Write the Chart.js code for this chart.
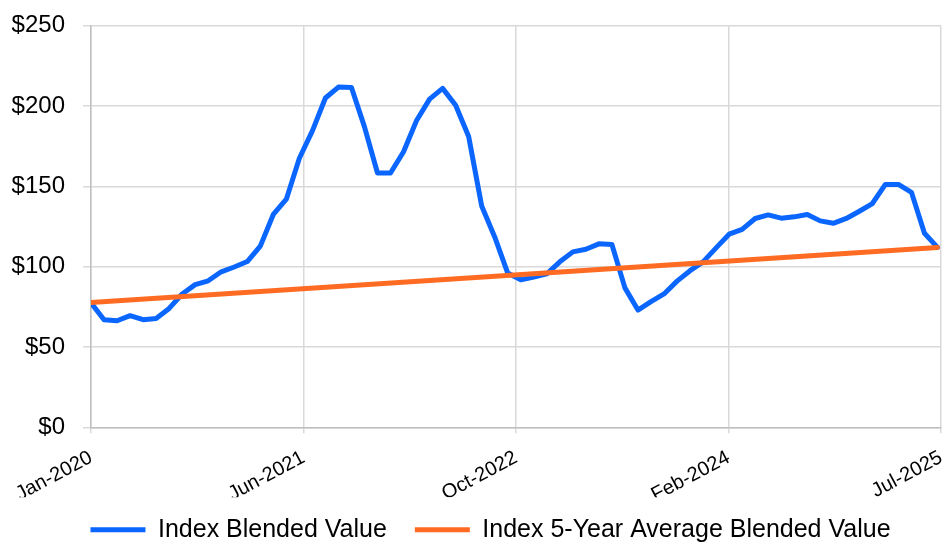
<!DOCTYPE html>
<html>
<head>
<meta charset="utf-8">
<script src="https://cdn.jsdelivr.net/npm/chart.js@4"></script>
<style>
  html, body { margin: 0; padding: 0; background: #fff; }
  #wrap { width: 951px; height: 542px; }
</style>
</head>
<body>
<div id="wrap"><canvas id="lineChart"></canvas></div>
<script>
// monthly values, Jan-2020 onwards
const blendedValue = [
    77.5, 67, 66.3, 69.5, 67, 67.7, 74, 83, 88.8, 91.2,
    96.8, 99.8, 103.2, 112.8, 132.5, 142, 167.5, 184.5, 205, 211.8,
    211.5, 187, 158.3, 158.3, 171.5, 191, 204.3, 211, 200.5, 181,
    137.8, 118.5, 96, 91.8, 93.6, 95.5, 103, 109.2, 110.8, 114.2,
    113.8, 86.8, 73, 78.2, 83, 91, 97.5, 103, 111.7, 120.2,
    123.2, 130, 132.2, 130.2, 131, 132.5, 128.5, 127, 130, 134.5,
    139.3, 151.2, 151.2, 146.3, 120.8, 112
];

// 5-year average line: start and end values
const averageIndex = [0, 65];
const averageValue = [77.7, 112];

const xTickLabels = ['Jan-2020', 'Jun-2021', 'Oct-2022', 'Feb-2024', 'Jul-2025'];
const yTickValues = [0, 50, 100, 150, 200, 250];

const xMax = 65.27;
const font = "'Liberation Sans', Arial, sans-serif";

// nudge legend: a bit right and up, like the original
const legendShift = {
    id: 'legendShift',
    afterLayout(chart) {
        const lg = chart.legend;
        lg.left += 20;
        lg.right += 20;
        lg.top -= 8;
        lg.bottom -= 8;
    }
};

// keep label overhang from eating into the plot area
function noPad(scale) {
    scale.paddingTop = 0;
    scale.paddingBottom = 0;
    scale.paddingLeft = 0;
    scale.paddingRight = 0;
}

function drawLineChart(canvasId) {
    const ctx = document.getElementById(canvasId);

    new Chart(ctx, {
        type: 'line',
        data: {
            datasets: [{
                label: 'Index Blended Value',
                data: blendedValue.map((v, i) => ({ x: i, y: v })),
                borderColor: '#0A66FF',
                backgroundColor: '#0A66FF',
                borderWidth: 5,
                borderJoinStyle: 'round',
                borderCapStyle: 'round',
                pointRadius: 0,
                tension: 0,
                order: 1
            }, {
                label: 'Index 5-Year Average Blended Value',
                data: averageIndex.map((x, i) => ({ x: x, y: averageValue[i] })),
                borderColor: '#FF6B22',
                backgroundColor: '#FF6B22',
                borderWidth: 5,
                borderCapStyle: 'round',
                pointRadius: 0,
                tension: 0,
                order: 0
            }]
        },
        plugins: [legendShift],
        options: {
            responsive: true,
            maintainAspectRatio: false,
            animation: false,
            layout: {
                padding: { left: 0, right: 10, top: 25.7, bottom: -18.3 }
            },
            plugins: {
                tooltip: { enabled: false },
                legend: {
                    position: 'bottom',
                    labels: {
                        usePointStyle: true,
                        pointStyle: 'line',
                        pointStyleWidth: 55,
                        padding: 28,
                        color: '#000',
                        font: { family: font, size: 25 },
                        sort: (a, b) => a.datasetIndex - b.datasetIndex
                    }
                }
            },
            scales: {
                x: {
                    type: 'linear',
                    min: 0,
                    max: xMax,
                    afterBuildTicks: scale => {
                        scale.ticks = xTickLabels.map((t, i) => ({ value: xMax * i / 4 }));
                    },
                    afterFit: scale => { scale.height = 70; noPad(scale); },
                    ticks: {
                        autoSkip: false,
                        minRotation: 28,
                        maxRotation: 28,
                        padding: 12.6,
                        color: '#000',
                        font: { family: font, size: 20 },
                        callback: (v, i) => xTickLabels[i]
                    },
                    grid: { color: '#d9d9d9', lineWidth: 1.5, tickLength: 6 },
                    border: { color: '#bfbfbf', width: 1.5 }
                },
                y: {
                    min: 0,
                    max: 250,
                    afterBuildTicks: scale => {
                        scale.ticks = yTickValues.map(v => ({ value: v }));
                    },
                    afterFit: scale => { scale.width = 91; noPad(scale); },
                    ticks: {
                        padding: 18,
                        color: '#000',
                        font: { family: font, size: 24 },
                        callback: v => '$' + v
                    },
                    grid: { color: '#d9d9d9', lineWidth: 1.5, tickLength: 8 },
                    border: { color: '#bfbfbf', width: 1.5 }
                }
            }
        }
    });
}

drawLineChart('lineChart');
</script>
</body>
</html>
